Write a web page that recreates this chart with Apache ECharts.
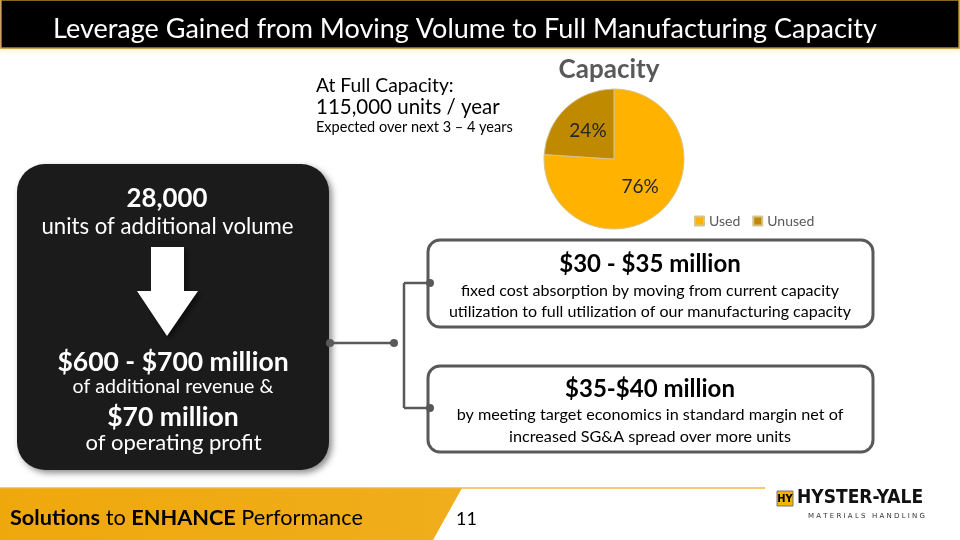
<!DOCTYPE html>
<html><head><meta charset="utf-8">
<script src="https://cdn.jsdelivr.net/npm/echarts@6/dist/echarts.min.js"></script>
<style>html,body{margin:0;padding:0;background:#fff}#c{width:960px;height:540px}</style>
</head><body><div id="c"></div>
<script>
// ---- data ----
const categories = ['Used', 'Unused'];
const capacityShare = [76, 24];
const chartTitle = 'Capacity';
const slideTitle = 'Leverage Gained from Moving Volume to Full Manufacturing Capacity';
const capacityNote = ['At Full Capacity:', '115,000 units / year', 'Expected over next 3 \u2013 4 years'];
const leftBoxLines = ['28,000', 'units of additional volume', '$600 - $700 million', 'of additional revenue &', '$70 million', 'of operating profit'];
const box1Lines = ['$30 - $35 million', 'fixed cost absorption by moving from current capacity', 'utilization to full utilization of our manufacturing capacity'];
const box2Lines = ['$35-$40 million', 'by meeting target economics in standard margin net of', 'increased SG&A spread over more units'];
const pageNumber = '11';

const F = 'Lato, "Noto Sans", sans-serif';
const chart = echarts.init(document.getElementById('c'), null, {renderer: 'canvas'});

function T(x, y, s, size, color, bold, align, family) {
  return {type: 'text', z: 20, style: {
    text: s, x: x, y: y, fill: color,
    font: (bold ? 'bold ' : '') + size + 'px ' + (family || F),
    align: align || 'center', verticalAlign: 'middle',
    textAlign: align || 'center', textVerticalAlign: 'middle'
  }};
}
function dot(x, y) {
  return {type: 'circle', z: 12, shape: {cx: x, cy: y, r: 4}, style: {fill: '#595959'}};
}
function line(x1, y1, x2, y2) {
  return {type: 'line', z: 11, shape: {x1, y1, x2, y2}, style: {stroke: '#595959', lineWidth: 2.5}};
}

const G = [];
// header
G.push({type: 'rect', z: 1, shape: {x: 0, y: 48, width: 960, height: 9},
  style: {fill: new echarts.graphic.LinearGradient(0, 0, 0, 1, [{offset: 0, color: 'rgba(255,225,140,0.55)'}, {offset: 1, color: 'rgba(255,255,255,0)'}])}});
G.push({type: 'rect', z: 2, shape: {x: 1, y: 0, width: 958, height: 48}, style: {fill: '#000', stroke: '#B8862B', lineWidth: 1.5}});
G.push(T(465, 29, slideTitle, 27, '#fff', false));

// capacity note
G.push(T(316, 86, capacityNote[0], 19.3, '#000', false, 'left'));
G.push(T(316, 107, capacityNote[1], 20.5, '#000', false, 'left'));
G.push(T(316, 127, capacityNote[2], 14.5, '#000', false, 'left'));

// pie title
G.push(T(609, 70, chartTitle, 26, '#595959', true));

// left black box
G.push({type: 'rect', z: 5, shape: {x: 17, y: 164, width: 312, height: 306, r: 28},
  style: {fill: '#1b1b1b', shadowBlur: 6, shadowColor: 'rgba(0,0,0,0.45)', shadowOffsetX: 3, shadowOffsetY: 3}});
G.push({type: 'polygon', z: 6, shape: {points: [[151, 247], [184, 247], [184, 291], [198, 291], [167, 336], [137, 291], [151, 291]]},
  style: {fill: '#fff', shadowBlur: 5, shadowColor: 'rgba(0,0,0,0.5)', shadowOffsetX: 3, shadowOffsetY: 3}});
G.push(T(167, 199, leftBoxLines[0], 25.8, '#fff', true));
G.push(T(167.5, 227, leftBoxLines[1], 22.2, '#fff', false));
G.push(T(173, 362, leftBoxLines[2], 26.5, '#fff', true));
G.push(T(173, 387, leftBoxLines[3], 19.6, '#fff', false));
G.push(T(173, 417, leftBoxLines[4], 26.5, '#fff', true));
G.push(T(173.5, 443, leftBoxLines[5], 22, '#fff', false));

// connectors
G.push(line(330, 343, 394, 343));
G.push(line(404, 283, 404, 408));
G.push(line(404, 283, 430, 283));
G.push(line(404, 408, 430, 408));
G.push(dot(330, 343), dot(394, 343), dot(430, 283), dot(430, 408));

// right boxes
G.push({type: 'rect', z: 10, shape: {x: 428, y: 240, width: 445, height: 87, r: 12}, style: {fill: '#fff', stroke: '#595959', lineWidth: 3}});
G.push({type: 'rect', z: 10, shape: {x: 428, y: 366, width: 445, height: 86, r: 12}, style: {fill: '#fff', stroke: '#595959', lineWidth: 3}});
G.push(T(650, 264, box1Lines[0], 24, '#000', true));
G.push(T(650, 291, box1Lines[1], 16, '#000', false));
G.push(T(650, 312, box1Lines[2], 16, '#000', false));
G.push(T(650, 389, box2Lines[0], 24, '#000', true));
G.push(T(650, 415, box2Lines[1], 16.2, '#000', false));
G.push(T(650, 437, box2Lines[2], 16.2, '#000', false));

// footer
G.push({type: 'polygon', z: 3, shape: {points: [[0, 488], [462, 488], [433, 540], [0, 540]]},
  style: {fill: new echarts.graphic.LinearGradient(0, 0, 1, 0, [{offset: 0, color: '#EFA80C'}, {offset: 1, color: '#F0AE1C'}])}});
G.push({type: 'line', z: 3, shape: {x1: 0, y1: 488, x2: 765, y2: 488}, style: {stroke: '#F0B440', lineWidth: 1.5}});
G.push({type: 'text', z: 20, style: {
  x: 10, y: 518, align: 'left', verticalAlign: 'middle', textAlign: 'left', textVerticalAlign: 'middle',
  text: '{b|Solutions}{n| to }{b|ENHANCE}{n| Performance}',
  rich: {b: {font: 'bold 21.7px ' + F, fill: '#000', color: '#000'}, n: {font: '21.7px ' + F, fill: '#000', color: '#000'}}
}});
G.push(T(456, 519, pageNumber, 18, '#000', false, 'left'));

// logo
G.push({type: 'rect', z: 4, shape: {x: 777, y: 491, width: 16, height: 15}, style: {fill: '#F4B400', stroke: '#777', lineWidth: 1}});
G.push(T(785, 499, 'HY', 11, '#000', true, 'center', '"DejaVu Sans Condensed", "DejaVu Sans", sans-serif'));
G.push(T(797, 498, 'HYSTER-YALE', 19, '#111', true, 'left', '"DejaVu Sans Condensed", "DejaVu Sans", sans-serif'));
G.push(T(925, 516, 'M A T E R I A L S   H A N D L I N G', 7, '#333', false, 'right', '"DejaVu Sans", sans-serif'));

const option = {
  animation: false,
  backgroundColor: '#fff',
  legend: {
    data: categories, left: 689, top: 209, icon: 'rect', itemWidth: 9, itemHeight: 9, itemGap: 12,
    textStyle: {fontFamily: F, fontSize: 14, color: '#595959'}
  },
  graphic: {elements: G},
  series: [{
    type: 'pie', center: [614, 159], radius: 70, startAngle: 90, clockwise: true,
    label: {show: true, position: 'inside', formatter: '{c}%', fontFamily: F, fontSize: 19, color: '#262626'},
    labelLine: {show: false},
    itemStyle: {borderColor: '#D6C48E', borderWidth: 1},
    emphasis: {disabled: true},
    data: categories.map((c, i) => ({name: c, value: capacityShare[i], itemStyle: {color: i === 0 ? '#FFB300' : '#BF8900'}}))
  }]
};
chart.setOption(option);
</script></body></html>
